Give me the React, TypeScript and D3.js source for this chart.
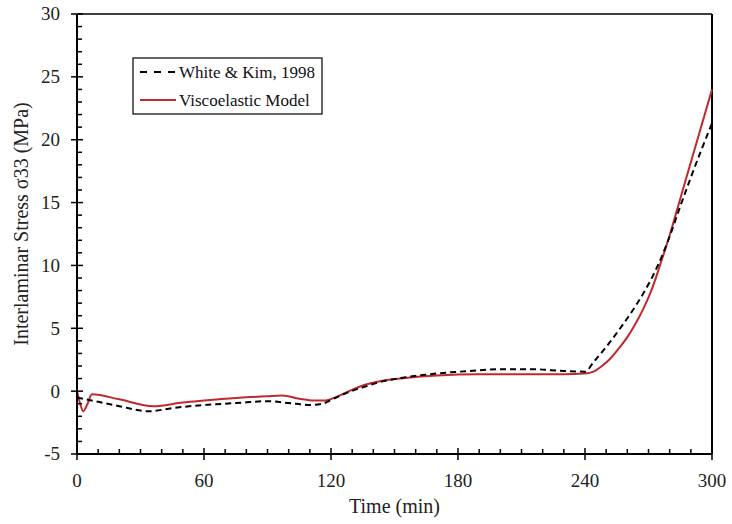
import React from "react";
import * as d3 from "d3";

const whiteKimTime = [0, 10, 20, 34, 45, 60, 75, 90, 100, 110, 116, 120, 128, 135, 145, 155, 170, 185, 200, 215, 230, 240, 244, 248, 252, 256, 260, 264, 268, 272, 276, 280, 285, 290, 295, 300];
const whiteKimStress = [-0.5, -0.85, -1.2, -1.6, -1.35, -1.1, -0.95, -0.8, -0.95, -1.1, -1.0, -0.7, -0.1, 0.3, 0.8, 1.1, 1.4, 1.6, 1.75, 1.75, 1.6, 1.55, 2.3, 3.1, 3.95, 4.85, 5.8, 6.8, 7.9, 9.15, 10.6, 12.3, 14.7, 17.0, 19.2, 21.3];

const modelTime = [0, 1.5, 3, 5, 7, 20, 36, 50, 60, 75, 90, 97, 105, 112, 117, 122, 128, 135, 145, 155, 170, 190, 210, 230, 240, 244, 248, 252, 256, 260, 264, 268, 272, 276, 280, 285, 290, 295, 300];
const modelStress = [0, -1.0, -1.6, -1.0, -0.25, -0.65, -1.2, -0.9, -0.75, -0.55, -0.4, -0.35, -0.6, -0.75, -0.75, -0.5, -0.05, 0.45, 0.85, 1.05, 1.25, 1.35, 1.35, 1.35, 1.4, 1.55, 2.0, 2.6, 3.4, 4.3, 5.4, 6.7, 8.3, 10.3, 12.4, 15.3, 18.2, 21.1, 24.0];

const xMajorTicks = [0, 60, 120, 180, 240, 300];
const yMajorTicks = [-5, 0, 5, 10, 15, 20, 25, 30];
const legendLabels = ["White & Kim, 1998", "Viscoelastic Model"];
const xTitle = "Time (min)";
const yTitle = "Interlaminar Stress σ33 (MPa)";

const W = 732;
const H = 524;
const left = 77;
const right = 712;
const top = 14;
const bottom = 454;
const RED = "#C0282E";
const FONT = "'Liberation Serif', 'Times New Roman', serif";

export default function App() {
  const x = d3.scaleLinear().domain([0, 300]).range([left, right]);
  const y = d3.scaleLinear().domain([-5, 30]).range([bottom, top]);
  const line = d3
    .line<[number, number]>()
    .x((d) => x(d[0]))
    .y((d) => y(d[1]))
    .curve(d3.curveMonotoneX);
  const wk = whiteKimTime.map((t, i) => [t, whiteKimStress[i]] as [number, number]);
  const vm = modelTime.map((t, i) => [t, modelStress[i]] as [number, number]);
  const xMinor = d3.range(0, 301, 10).filter((v) => v % 60 !== 0);
  const yMinor = d3.range(-5, 31, 1).filter((v) => v % 5 !== 0);

  return (
    <svg
      width={W}
      height={H}
      style={{ position: "absolute", left: 0, top: 0, background: "#fff" }}
      fontFamily={FONT}
    >
      <rect x={0} y={0} width={W} height={H} fill="#fff" />
      {/* frame */}
      <line x1={left} x2={right} y1={top} y2={top} stroke="#000" strokeWidth={1.5} />
      <line x1={right} x2={right} y1={top} y2={bottom} stroke="#000" strokeWidth={2} />
      {/* curves */}
      <path d={line(vm) || ""} fill="none" stroke={RED} strokeWidth={2} />
      <path d={line(wk) || ""} fill="none" stroke="#000" strokeWidth={2} strokeDasharray="6,4" />
      {/* axes */}
      <line x1={left} x2={left} y1={top} y2={bottom} stroke="#000" strokeWidth={2} />
      <line x1={left} x2={right} y1={bottom} y2={bottom} stroke="#000" strokeWidth={2} />
      {yMajorTicks.map((v) => (
        <g key={"ym" + v}>
          <line x1={left - 6} x2={left + 6} y1={y(v)} y2={y(v)} stroke="#000" strokeWidth={1.5} />
          <text x={left - 17} y={y(v)} dy="0.34em" textAnchor="end" fontSize={19} fill="#222">
            {v}
          </text>
        </g>
      ))}
      {yMinor.map((v) => (
        <line key={"yn" + v} x1={left} x2={left + 5} y1={y(v)} y2={y(v)} stroke="#000" strokeWidth={1.5} />
      ))}
      {xMajorTicks.map((v) => (
        <g key={"xm" + v}>
          <line x1={x(v)} x2={x(v)} y1={bottom - 6} y2={bottom + 6} stroke="#000" strokeWidth={1.5} />
          <text x={x(v)} y={487} textAnchor="middle" fontSize={19} fill="#222">
            {v}
          </text>
        </g>
      ))}
      {xMinor.map((v) => (
        <line key={"xn" + v} x1={x(v)} x2={x(v)} y1={bottom - 5} y2={bottom} stroke="#000" strokeWidth={1.5} />
      ))}
      {/* titles */}
      <text x={(left + right) / 2} y={513} textAnchor="middle" fontSize={20} fill="#222">
        {xTitle}
      </text>
      <text
        transform={`translate(28, ${(top + bottom) / 2 - 10}) rotate(-90)`}
        textAnchor="middle"
        fontSize={20}
        fill="#222"
      >
        {yTitle}
      </text>
      {/* legend */}
      <rect x={133} y={58} width={189} height={56} fill="#fff" stroke="#000" strokeWidth={1.2} />
      <line x1={140} x2={176} y1={72} y2={72} stroke="#000" strokeWidth={2} strokeDasharray="7,7" />
      <text x={179} y={72} dy="0.34em" fontSize={17} fill="#111">
        {legendLabels[0]}
      </text>
      <line x1={140} x2={176} y1={100} y2={100} stroke={RED} strokeWidth={2} />
      <text x={179} y={100} dy="0.34em" fontSize={17} fill="#111">
        {legendLabels[1]}
      </text>
    </svg>
  );
}
